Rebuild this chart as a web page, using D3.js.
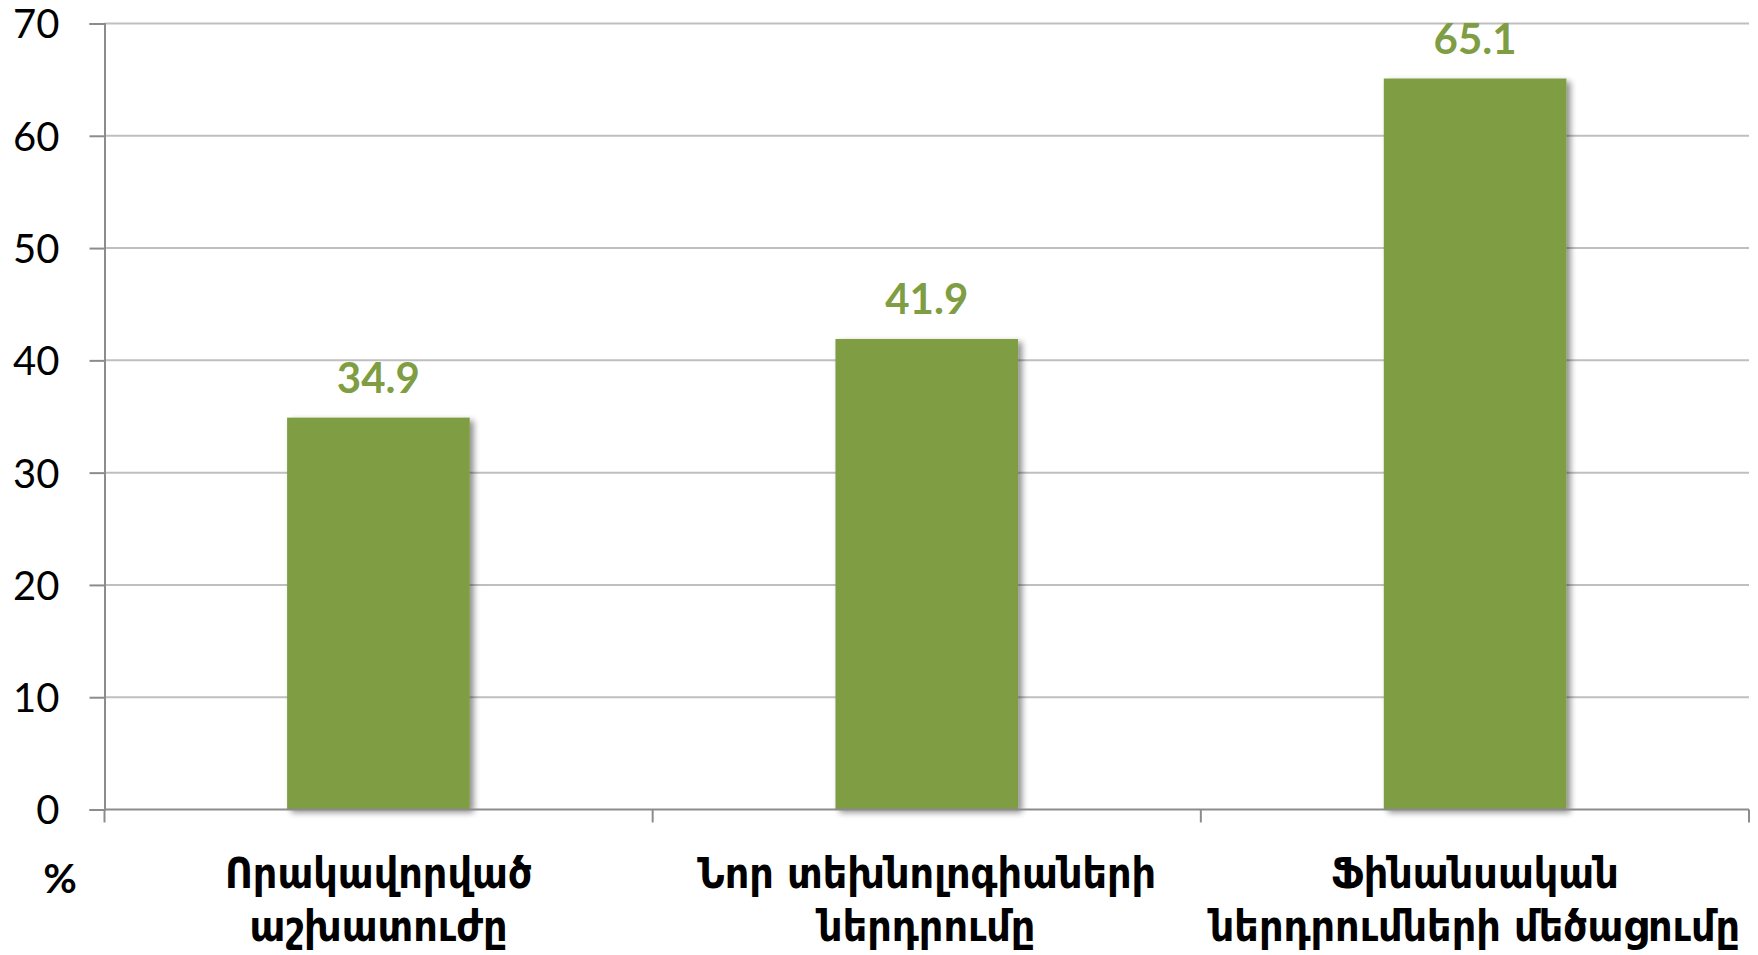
<!DOCTYPE html>
<html>
<head>
<meta charset="utf-8">
<script src="https://cdn.jsdelivr.net/npm/d3@7"></script>
<style>
  html, body { margin: 0; padding: 0; background: #fff; }
  svg { display: block; }
</style>
</head>
<body>
<svg id="chart" width="1758" height="955"></svg>
<script>
const categories = [
  ["Որակավորված", "աշխատուժը"],
  ["Նոր տեխնոլոգիաների", "ներդրումը"],
  ["Ֆինանսական", "ներդրումների մեծացումը"]
];
const values = [34.9, 41.9, 65.1];
const yTicks = [0, 10, 20, 30, 40, 50, 60, 70];
const unitLabel = "%";

const W = 1758, H = 955;
const margin = { left: 104.5, right: 9, top: 23.5, bottom: 145.5 };
const svg = d3.select("#chart");

const defs = svg.append("defs");
const f = defs.append("filter").attr("id", "shadow").attr("x", "-10%").attr("y", "-10%").attr("width", "130%").attr("height", "130%");
f.append("feGaussianBlur").attr("in", "SourceAlpha").attr("stdDeviation", 3);
f.append("feOffset").attr("dx", 4).attr("dy", 3).attr("result", "ob");
f.append("feComponentTransfer").append("feFuncA").attr("type", "linear").attr("slope", 0.45);
const fm = f.append("feMerge");
fm.append("feMergeNode");
fm.append("feMergeNode").attr("in", "SourceGraphic");

const x = d3.scaleBand()
  .domain(d3.range(categories.length))
  .range([margin.left, W - margin.right])
  .paddingInner(0.667).paddingOuter(0.333);
const xOuter = d3.scaleBand()
  .domain(d3.range(categories.length))
  .range([margin.left, W - margin.right])
  .padding(0);
const y = d3.scaleLinear().domain([0, 70]).range([H - margin.bottom, margin.top]);

// gridlines
svg.append("g")
  .selectAll("line").data(yTicks.filter(d => d > 0)).join("line")
  .attr("x1", margin.left).attr("x2", W - margin.right)
  .attr("y1", d => y(d)).attr("y2", d => y(d))
  .attr("stroke", "#bfbfbf").attr("stroke-width", 2);

// bars
svg.append("g")
  .selectAll("rect").data(values).join("rect")
  .attr("x", (d, i) => x(i)).attr("width", x.bandwidth())
  .attr("y", d => y(d)).attr("height", d => y(0) - y(d))
  .attr("fill", "#7f9d43")
  .attr("filter", "url(#shadow)");

// y axis
const yAxis = d3.axisLeft(y).tickValues(yTicks).tickSize(15).tickPadding(30).tickFormat(d3.format("d"));
const gy = svg.append("g").attr("transform", `translate(${margin.left},0)`).call(yAxis);
gy.select(".domain").attr("stroke", "#8c8c8c").attr("stroke-width", 2);
gy.selectAll(".tick line").attr("stroke", "#8c8c8c").attr("stroke-width", 2);
gy.selectAll(".tick text")
  .attr("font-family", "Lato, 'Open Sans', sans-serif")
  .attr("font-size", 40).attr("fill", "#000")
  .attr("dy", "0.36em");

// x axis baseline + ticks at band boundaries
const gx = svg.append("g");
gx.append("line")
  .attr("x1", margin.left).attr("x2", W - margin.right)
  .attr("y1", y(0)).attr("y2", y(0))
  .attr("stroke", "#8c8c8c").attr("stroke-width", 2);
const bounds = d3.range(categories.length + 1).map(i => i < categories.length ? xOuter(i) : xOuter(i - 1) + xOuter.bandwidth());
gx.selectAll("line.tk").data(bounds).join("line").attr("class", "tk")
  .attr("x1", d => d).attr("x2", d => d)
  .attr("y1", y(0)).attr("y2", y(0) + 13)
  .attr("stroke", "#8c8c8c").attr("stroke-width", 2);

// category labels
const cl = svg.append("g").selectAll("text").data(categories).join("text")
  .attr("text-anchor", "middle")
  .attr("font-family", "'DejaVu Sans Condensed', 'DejaVu Sans', sans-serif")
  .attr("font-stretch", "condensed")
  .attr("font-weight", "bold")
  .attr("font-size", 42.5)
  .attr("fill", "#000");
cl.selectAll("tspan").data((d, i) => d.map(t => ({ t, i }))).join("tspan")
  .attr("x", d => xOuter(d.i) + xOuter.bandwidth() / 2)
  .attr("y", (d, j) => y(0) + 78 + j * 53)
  .text(d => d.t);

// value labels
svg.append("g").selectAll("text").data(values).join("text")
  .attr("x", (d, i) => x(i) + x.bandwidth() / 2)
  .attr("y", d => y(d) - 25)
  .attr("text-anchor", "middle")
  .attr("font-family", "Lato, 'Open Sans', sans-serif")
  .attr("font-weight", "bold")
  .attr("font-size", 42)
  .attr("fill", "#7f9d43")
  .text(d => d3.format(".1f")(d));

// unit label
svg.append("text")
  .attr("x", 60).attr("y", y(0) + 83)
  .attr("text-anchor", "middle")
  .attr("font-family", "Lato, 'Open Sans', sans-serif")
  .attr("font-weight", "bold")
  .attr("font-size", 41)
  .attr("fill", "#000")
  .text(unitLabel);
</script>
</body>
</html>
